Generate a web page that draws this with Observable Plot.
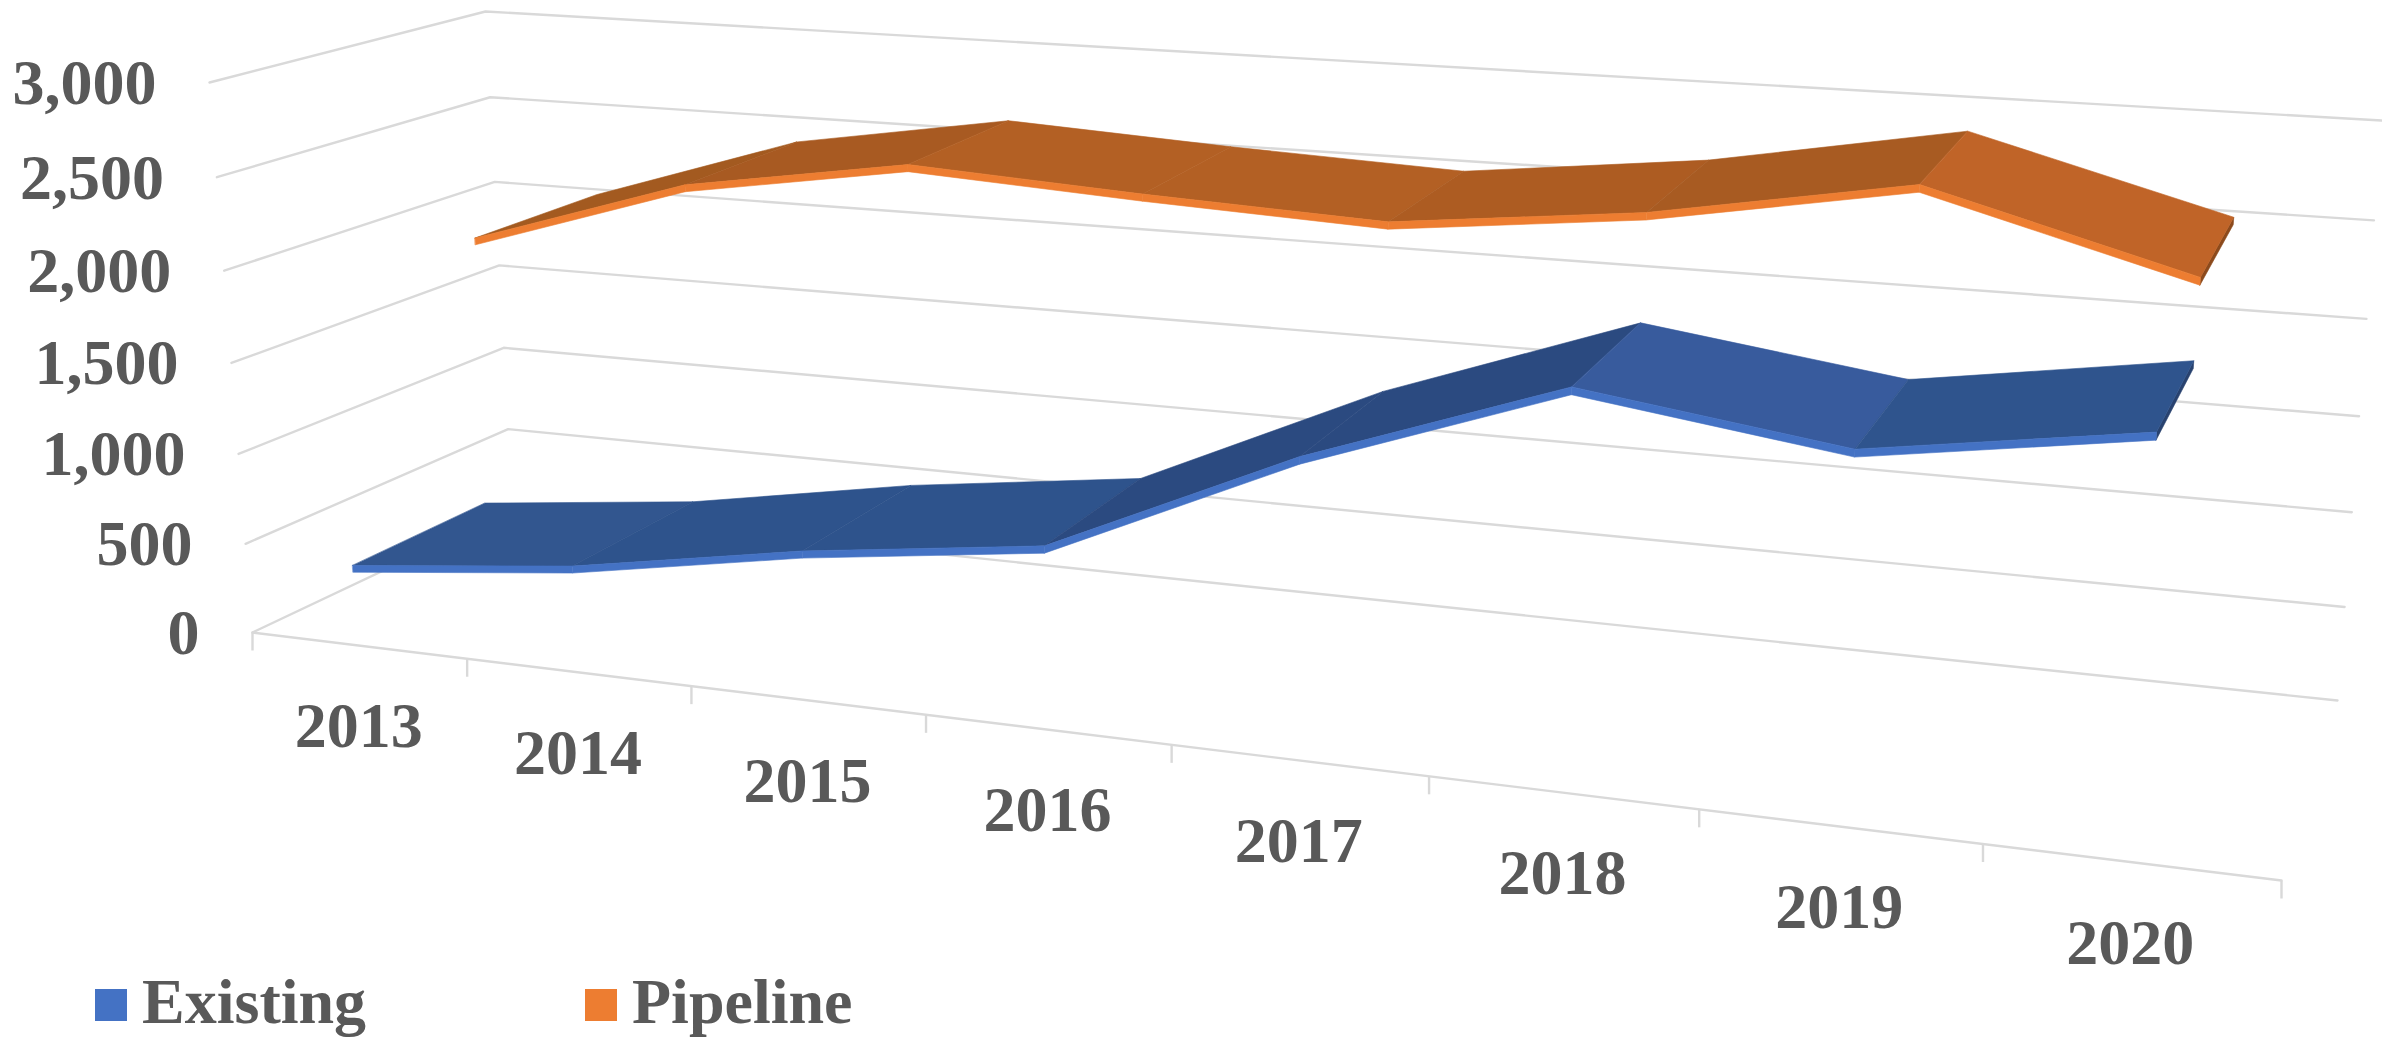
<!DOCTYPE html>
<html>
<head>
<meta charset="utf-8">
<script src="https://cdn.jsdelivr.net/npm/d3@7"></script>
<script src="https://cdn.jsdelivr.net/npm/@observablehq/plot@0.6"></script>
<style>
html,body{margin:0;padding:0;background:#fff;width:2382px;height:1038px;overflow:hidden}
#legend{position:relative;height:66px;width:2382px;font:bold 64px "Liberation Serif",serif;color:#595959}
#legend span{position:absolute;line-height:64px;top:-2px}
#legend i{position:absolute;width:32px;height:32px;top:17px}
svg{display:block}
</style>
</head>
<body>
<div id="chart"></div>
<div id="legend">
<i style="left:95px;background:#4472C4"></i><span style="left:142px">Existing</span>
<i style="left:585px;background:#ED7D31"></i><span style="left:632px">Pipeline</span>
</div>
<script>
const years = [2013, 2014, 2015, 2016, 2017, 2018, 2019, 2020];
const existing = [445, 580, 800, 965, 1555, 2025, 1850, 2060];
const pipeline = [1955, 2345, 2545, 2480, 2430, 2575, 2810, 2455];
const valueTicks = [0, 500, 1000, 1500, 2000, 2500, 3000];
const valueMax = 3000;

const existingShades = ["#32568F", "#2E538C", "#2E538C", "#2B4A80", "#2B4A80", "#385B9D", "#2F548D"];
const pipelineShades = ["#A35A20", "#A85A22", "#B36024", "#B36024", "#AD5C22", "#A85B22", "#C06428"];

// The chart box in screen space, and the strength of foreshortening on each axis.
const box = {
  flb: [252, 632], frb: [2281, 880], blb: [512, 509], brb: [2337, 700],
  flt: [209, 82], frt: [2327, 240], blt: [485, 11], brt: [2381, 120]
};
const perspective = {u: 1.2075, v: 1.04, d: 0.9};
const existingDepth = [0, 0.5];
const pipelineDepth = [0.52, 1.02];
const lineThickness = 38;

const foreshorten = (t, k) => t / (t + k * (1 - t));
const mix = (a, b, t) => [a[0] + (b[0] - a[0]) * t, a[1] + (b[1] - a[1]) * t];
function project(u, value, depth) {
  const s = foreshorten(u, perspective.u);
  const t = foreshorten(value / valueMax, perspective.v);
  const r = foreshorten(depth, perspective.d);
  const bottom = mix(mix(box.flb, box.frb, s), mix(box.blb, box.brb, s), r);
  const top = mix(mix(box.flt, box.frt, s), mix(box.blt, box.brt, s), r);
  return mix(bottom, top, t);
}
const center = (i) => (i + 0.5) / years.length;

function band(p, q, seg, fill) {
  return [
    {x1: p[0][0], y1: p[0][1], x2: p[1][0], y2: p[1][1], seg, fill},
    {x1: q[0][0], y1: q[0][1], x2: q[1][0], y2: q[1][1], seg, fill}
  ];
}
function ribbon(values, depth, shades, lineColor, endColor) {
  const top = [], front = [];
  values.forEach((v, i) => {
    if (i === values.length - 1) return;
    const w = values[i + 1];
    top.push(...band(
      [project(center(i), v, depth[0]), project(center(i), v, depth[1])],
      [project(center(i + 1), w, depth[0]), project(center(i + 1), w, depth[1])],
      i, shades[i]));
    front.push(...band(
      [project(center(i), v, depth[0]), project(center(i), v - lineThickness, depth[0])],
      [project(center(i + 1), w, depth[0]), project(center(i + 1), w - lineThickness, depth[0])],
      i, lineColor));
  });
  const n = values.length - 1, last = values[n];
  const end = band(
    [project(center(n), last, depth[0]), project(center(n), last - lineThickness, depth[0])],
    [project(center(n), last, depth[1]), project(center(n), last - lineThickness, depth[1])],
    0, endColor);
  return {top, front, end};
}
const areaOpts = {x1: "x1", y1: "y1", x2: "x2", y2: "y2", z: "seg", fill: "fill", stroke: "fill", strokeWidth: 0.6};
const ribbonMarks = (r) => [
  Plot.area(r.end, areaOpts),
  Plot.area(r.top, areaOpts),
  Plot.area(r.front, areaOpts)
];

const gridRows = valueTicks.flatMap((v) =>
  [[0, 0], [0, 1], [1, 1]].map(([u, d]) => {
    const [x, y] = project(u, v, d);
    return {v, x, y};
  }));
const frontEdge = [0, 1].map((u) => {
  const [x, y] = project(u, 0, 0);
  return {x, y};
});
const tickLength = 18;
const catTicks = d3.range(years.length + 1).map((i) => {
  const [x, y] = project(i / years.length, 0, 0);
  return {x, y, y2: y + tickLength};
});
const valueLabels = valueTicks.map((v) => {
  const [x, y] = project(0, v, 0);
  return {x: x - 53, y: y, text: d3.format(",")(v)};
});
const yearLabels = years.map((yr, i) => {
  const [x, y] = project(center(i), 0, 0);
  return {x, y: y + 81, text: String(yr)};
});
const textStyle = {fontFamily: "Liberation Serif", fontWeight: "bold", fontSize: 64, fill: "#595959"};
const gridStyle = {stroke: "#D9D9D9", strokeWidth: 2.4};

const chart = Plot.plot({
  width: 2382,
  height: 972,
  margin: 0,
  x: {domain: [0, 2382], range: [0, 2382], axis: null},
  y: {domain: [0, 972], range: [0, 972], axis: null},
  color: {type: "identity"},
  style: {background: "#fff", overflow: "visible"},
  marks: [
    Plot.line(gridRows, {x: "x", y: "y", z: "v", ...gridStyle}),
    Plot.line(frontEdge, {x: "x", y: "y", ...gridStyle}),
    Plot.link(catTicks, {x1: "x", x2: "x", y1: "y", y2: "y2", ...gridStyle}),
    ...ribbonMarks(ribbon(pipeline, pipelineDepth, pipelineShades, "#ED7D31", "#8C4A1C")),
    ...ribbonMarks(ribbon(existing, existingDepth, existingShades, "#4472C4", "#28426F")),
    Plot.text(valueLabels, {x: "x", y: "y", text: "text", textAnchor: "end", dy: 1, ...textStyle}),
    Plot.text(yearLabels, {x: "x", y: "y", text: "text", textAnchor: "middle", ...textStyle})
  ]
});
document.getElementById("chart").appendChild(chart);
</script>
</body>
</html>
